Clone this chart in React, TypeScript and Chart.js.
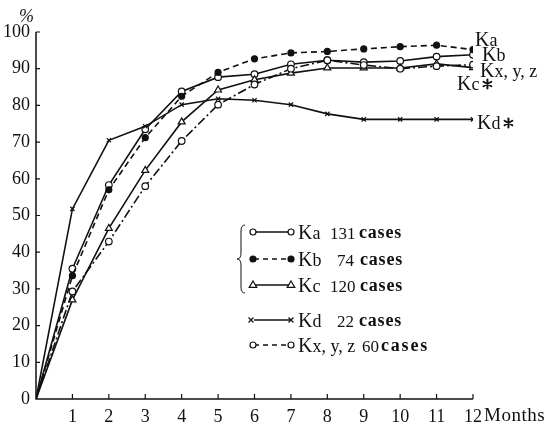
import React, { useEffect, useRef } from "react";
import { Chart, registerables } from "chart.js";

Chart.register(...registerables);

// Months after onset
const months = [0, 1, 2, 3, 4, 5, 6, 7, 8, 9, 10, 11, 12];

// Cumulative percentages per group
const kaValues = [0, 35.5, 58.3, 73.5, 83.8, 87.7, 88.5, 91.2, 92.3, 91.8, 92.1, 93.3, 93.8];
const kbValues = [0, 33.6, 57.0, 71.2, 82.5, 89.0, 92.7, 94.3, 94.7, 95.4, 96.0, 96.4, 95.2];
const kcValues = [0, 27.0, 46.5, 62.3, 75.5, 84.2, 87.0, 88.8, 90.2, 90.2, 90.2, 91.3, 90.3];
const kdValues = [0, 51.8, 70.5, 74.3, 80.2, 81.8, 81.4, 80.2, 77.7, 76.2, 76.2, 76.2, 76.2];
const kxValues = [0, 29.3, 42.9, 58.0, 70.3, 80.2, 85.7, 90.0, 92.3, 91.0, 90.0, 90.7, 91.1];

// Legend entries: group name and number of cases
const legendNames = ["Ka", "Kb", "Kc", "Kd", "Kx, y, z"];
const legendCounts = ["131", "74", "120", "22", "60"];

const SERIF = "'Liberation Serif', 'DejaVu Serif', serif";
const INK = "#111";

function dot(ctx: CanvasRenderingContext2D, x: number, y: number, r: number, filled: boolean) {
  ctx.beginPath();
  ctx.arc(x, y, r, 0, Math.PI * 2);
  ctx.fillStyle = filled ? INK : "#fff";
  ctx.fill();
  ctx.setLineDash([]);
  ctx.lineWidth = 1.2;
  ctx.strokeStyle = INK;
  ctx.stroke();
}

function tri(ctx: CanvasRenderingContext2D, x: number, y: number, r: number) {
  ctx.beginPath();
  ctx.moveTo(x, y - r);
  ctx.lineTo(x + r * 0.95, y + r * 0.6);
  ctx.lineTo(x - r * 0.95, y + r * 0.6);
  ctx.closePath();
  ctx.fillStyle = "#fff";
  ctx.fill();
  ctx.setLineDash([]);
  ctx.lineWidth = 1.2;
  ctx.strokeStyle = INK;
  ctx.stroke();
}

function cross(ctx: CanvasRenderingContext2D, x: number, y: number, r: number) {
  ctx.beginPath();
  ctx.setLineDash([]);
  ctx.moveTo(x - r, y - r);
  ctx.lineTo(x + r, y + r);
  ctx.moveTo(x + r, y - r);
  ctx.lineTo(x - r, y + r);
  ctx.lineWidth = 1.2;
  ctx.strokeStyle = INK;
  ctx.stroke();
}

// six-armed asterisk mark
function star(ctx: CanvasRenderingContext2D, x: number, y: number, r: number) {
  ctx.save();
  ctx.strokeStyle = INK;
  ctx.lineWidth = 2;
  ctx.lineCap = "round";
  ctx.setLineDash([]);
  ctx.beginPath();
  for (let k = 0; k < 3; k++) {
    const a = Math.PI / 2 + (k * Math.PI) / 3;
    ctx.moveTo(x - r * Math.cos(a), y - r * Math.sin(a));
    ctx.lineTo(x + r * Math.cos(a), y + r * Math.sin(a));
  }
  ctx.stroke();
  ctx.restore();
}

// "K" followed by a smaller suffix, optionally with an asterisk
function kLabel(ctx: CanvasRenderingContext2D, x: number, y: number, suffix: string, withStar = false) {
  ctx.fillStyle = INK;
  ctx.textBaseline = "alphabetic";
  ctx.textAlign = "left";
  ctx.font = `20px ${SERIF}`;
  ctx.fillText("K", x, y);
  const w = ctx.measureText("K").width;
  ctx.font = `18px ${SERIF}`;
  ctx.fillText(suffix, x + w, y);
  if (withStar) {
    const w2 = ctx.measureText(suffix).width;
    star(ctx, x + w + w2 + 8, y - 6, 4.5);
  }
}

const decorations = {
  id: "decorations",
  beforeDatasetsDraw(chart: any) {
    const ctx: CanvasRenderingContext2D = chart.ctx;
    const { left, right, top, bottom } = chart.chartArea;
    const xs = chart.scales.x;
    const ys = chart.scales.y;
    ctx.save();
    ctx.strokeStyle = INK;
    ctx.lineWidth = 1.5;
    ctx.setLineDash([]);
    ctx.beginPath();
    ctx.moveTo(left, top);
    ctx.lineTo(left, bottom);
    ctx.lineTo(right, bottom);
    ctx.stroke();
    ctx.lineWidth = 1.2;
    ctx.beginPath();
    for (let v = 10; v <= 100; v += 10) {
      const py = ys.getPixelForValue(v);
      ctx.moveTo(left, py);
      ctx.lineTo(left + 4, py);
    }
    for (let m = 1; m <= 12; m++) {
      const px = xs.getPixelForValue(m);
      ctx.moveTo(px, bottom);
      ctx.lineTo(px, bottom - 5);
    }
    ctx.stroke();
    ctx.restore();
  },
  afterDraw(chart: any) {
    const ctx: CanvasRenderingContext2D = chart.ctx;
    ctx.save();

    // unit and axis title
    ctx.fillStyle = INK;
    ctx.font = `italic 18px ${SERIF}`;
    ctx.textAlign = "left";
    ctx.textBaseline = "alphabetic";
    ctx.fillText("%", 19, 22);
    ctx.font = `19px ${SERIF}`;
    (ctx as any).letterSpacing = "0.5px";
    ctx.fillText("Months", 484, 421);
    (ctx as any).letterSpacing = "0px";

    // series labels at the right end
    kLabel(ctx, 475, 46, "a");
    kLabel(ctx, 482, 61, "b");
    kLabel(ctx, 480, 77, "x, y, z");
    kLabel(ctx, 457, 90, "c", true);
    kLabel(ctx, 477, 129, "d", true);

    // legend
    const rowsY = [232, 259, 285, 320, 345];
    const countX = [330, 337, 330, 337, 362];
    const casesX = [359, 360, 360, 359, 381];
    rowsY.forEach((ry, i) => {
      ctx.save();
      ctx.strokeStyle = INK;
      ctx.lineWidth = 1.5;
      ctx.setLineDash(i === 1 || i === 4 ? [5, 4] : []);
      ctx.beginPath();
      ctx.moveTo(254, ry);
      ctx.lineTo(290, ry);
      ctx.stroke();
      ctx.restore();
      if (i === 0 || i === 4) {
        dot(ctx, 253, ry, 3, false);
        dot(ctx, 291, ry, 3, false);
      } else if (i === 1) {
        dot(ctx, 253, ry, 3, true);
        dot(ctx, 291, ry, 3, true);
      } else if (i === 2) {
        tri(ctx, 253, ry, 4);
        tri(ctx, 291, ry, 4);
      } else {
        cross(ctx, 251, ry, 2.5);
        cross(ctx, 291, ry, 2.5);
      }
      kLabel(ctx, 298, ry + 7, legendNames[i].slice(1));
      ctx.fillStyle = INK;
      ctx.font = `17px ${SERIF}`;
      ctx.fillText(legendCounts[i], countX[i], ry + 7);
      ctx.font = `600 18px ${SERIF}`;
      (ctx as any).letterSpacing = i === 4 ? "1.8px" : "0.8px";
      ctx.fillText("cases", casesX[i], ry + 6);
      (ctx as any).letterSpacing = "0px";
    });

    // brace grouping the first three rows
    ctx.strokeStyle = INK;
    ctx.lineWidth = 1;
    ctx.setLineDash([]);
    ctx.beginPath();
    ctx.moveTo(245, 225);
    ctx.quadraticCurveTo(241, 225, 241, 231);
    ctx.lineTo(241, 253);
    ctx.quadraticCurveTo(241, 259, 237, 259);
    ctx.quadraticCurveTo(241, 259, 241, 265);
    ctx.lineTo(241, 287);
    ctx.quadraticCurveTo(241, 293, 245, 293);
    ctx.stroke();

    ctx.restore();
  },
};

const hideOrigin = (ctx: any) => (ctx.dataIndex === 0 ? 0 : undefined);

export default function App() {
  const canvasRef = useRef<HTMLCanvasElement | null>(null);

  useEffect(() => {
    if (!canvasRef.current) return;
    const base = {
      borderColor: INK,
      borderWidth: 1.6,
      pointBorderColor: INK,
      pointBorderWidth: 1.2,
      tension: 0,
      fill: false,
    };
    const chart = new Chart(canvasRef.current, {
      type: "line",
      data: {
        labels: months,
        datasets: [
          {
            ...base,
            label: "Kd",
            data: kdValues,
            pointStyle: "crossRot",
            pointRadius: (c: any) => hideOrigin(c) ?? 3,
            pointBackgroundColor: INK,
          },
          {
            ...base,
            label: "Kx, y, z",
            data: kxValues,
            borderDash: [9, 3, 2, 3],
            pointStyle: "circle",
            pointRadius: (c: any) => hideOrigin(c) ?? 3.3,
            pointBackgroundColor: "#fff",
          },
          {
            ...base,
            label: "Kc",
            data: kcValues,
            pointStyle: "triangle",
            pointRadius: (c: any) => hideOrigin(c) ?? 4,
            pointBackgroundColor: "#fff",
          },
          {
            ...base,
            label: "Kb",
            data: kbValues,
            borderDash: [6, 4],
            pointStyle: "circle",
            pointRadius: (c: any) => hideOrigin(c) ?? 3,
            pointBackgroundColor: INK,
          },
          {
            ...base,
            label: "Ka",
            data: kaValues,
            pointStyle: "circle",
            pointRadius: (c: any) => hideOrigin(c) ?? 3.3,
            pointBackgroundColor: "#fff",
          },
        ].map((d) => ({ ...d, data: d.data.map((v, i) => ({ x: months[i], y: v })) })),
      },
      options: {
        animation: false,
        responsive: false,
        maintainAspectRatio: false,
        events: [],
        layout: { padding: { left: 0, right: 76, top: 32, bottom: 0 } },
        plugins: { legend: { display: false }, tooltip: { enabled: false }, title: { display: false } },
        scales: {
          x: {
            type: "linear",
            min: 0,
            max: 12,
            grid: { display: false, drawTicks: false },
            border: { display: false },
            ticks: {
              stepSize: 1,
              autoSkip: false,
              maxRotation: 0,
              padding: 7,
              color: INK,
              font: { family: SERIF, size: 18 },
              callback: (v: any) => (v === 0 ? "" : String(v)),
            },
            afterFit: (s: any) => {
              s.height = 28;
            },
          },
          y: {
            min: 0,
            max: 100,
            grid: { display: false, drawTicks: false },
            border: { display: false },
            ticks: {
              stepSize: 10,
              padding: 6,
              color: INK,
              font: { family: SERIF, size: 18 },
            },
            afterFit: (s: any) => {
              s.width = 36;
            },
          },
        },
      },
      plugins: [decorations],
    } as any);
    return () => chart.destroy();
  }, []);

  return (
    <div style={{ position: "fixed", left: 0, top: 0, width: 549, height: 427, background: "#fff" }}>
      <canvas ref={canvasRef} width={549} height={427} style={{ display: "block" }} />
    </div>
  );
}
